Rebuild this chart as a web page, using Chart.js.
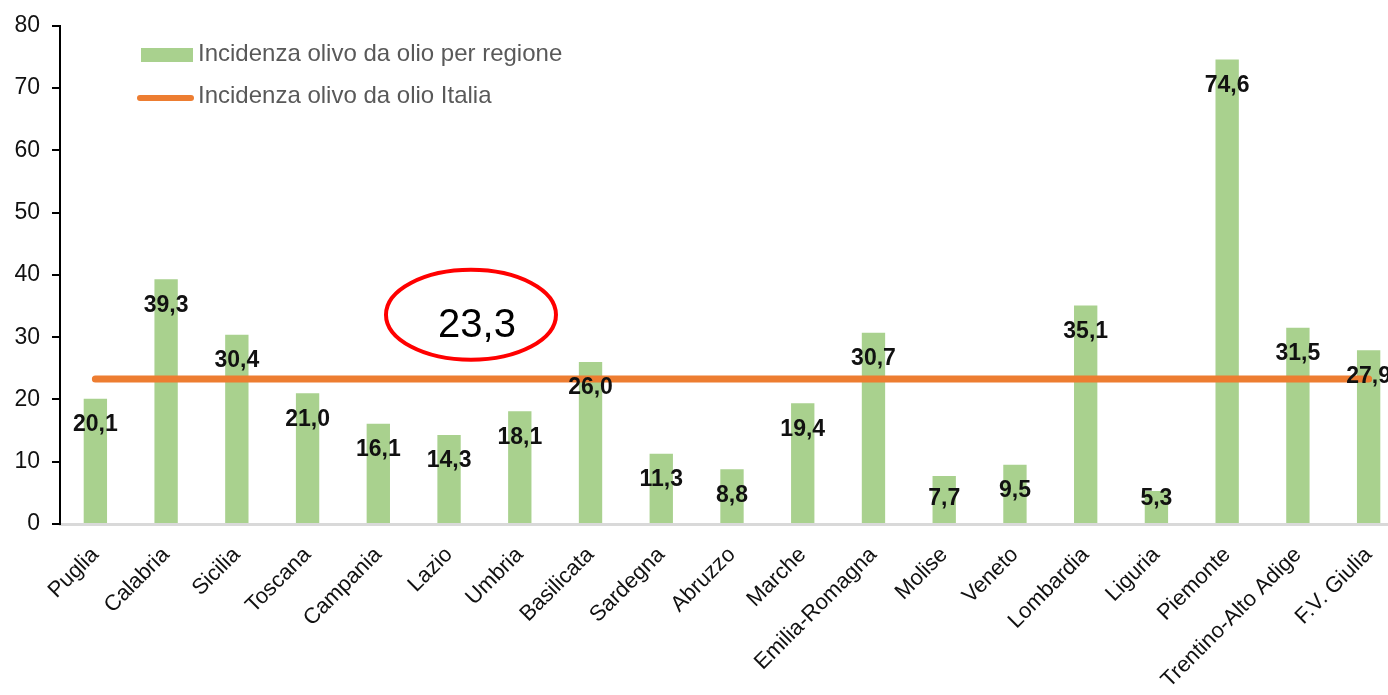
<!DOCTYPE html>
<html>
<head>
<meta charset="utf-8">
<script src="https://cdn.jsdelivr.net/npm/chart.js@4.4.1/dist/chart.umd.min.js"></script>
<style>
  html, body { margin: 0; padding: 0; background: #fff; overflow: hidden; }
  #wrap { width: 1406px; height: 695px; }
</style>
</head>
<body>
<div id="wrap"><canvas id="chart" width="1406" height="695"></canvas></div>
<script>
const regioni = ['Puglia', 'Calabria', 'Sicilia', 'Toscana', 'Campania', 'Lazio', 'Umbria',
    'Basilicata', 'Sardegna', 'Abruzzo', 'Marche', 'Emilia-Romagna', 'Molise', 'Veneto',
    'Lombardia', 'Liguria', 'Piemonte', 'Trentino-Alto Adige', 'F.V. Giulia'];
const incidenzaRegione = [20.1, 39.3, 30.4, 21.0, 16.1, 14.3, 18.1, 26.0, 11.3, 8.8, 19.4,
    30.7, 7.7, 9.5, 35.1, 5.3, 74.6, 31.5, 27.9];
const incidenzaItalia = [23.3, 23.3, 23.3, 23.3, 23.3, 23.3, 23.3, 23.3, 23.3, 23.3, 23.3,
    23.3, 23.3, 23.3, 23.3, 23.3, 23.3, 23.3, 23.3];
const seriesNames = ['Incidenza olivo da olio per regione', 'Incidenza olivo da olio Italia'];
const yTicks = [0, 10, 20, 30, 40, 50, 60, 70, 80];
// callout: ellipse around the national value
const callout = { text: '23,3', x: 5.31, y: 33.6 };

const GREEN = '#A9D18E';
const ORANGE = '#ED7D31';
const FONT = '"Liberation Sans", Arial, sans-serif';

const fmt = v => v.toFixed(1).replace('.', ',');

const valueLabels = {
    id: 'valueLabels',
    afterDatasetsDraw(chart) {
        const { ctx } = chart;
        const meta = chart.getDatasetMeta(1);
        const base = chart.scales.y.getPixelForValue(0);
        ctx.save();
        ctx.font = `bold 23px ${FONT}`;
        ctx.fillStyle = '#111';
        ctx.textAlign = 'center';
        ctx.textBaseline = 'middle';
        meta.data.forEach((bar, i) => {
            const y = Math.min(bar.y + 26, base - 25);
            ctx.fillText(fmt(incidenzaRegione[i]), bar.x, y);
        });
        ctx.restore();
    }
};

const extras = {
    id: 'extras',
    afterDraw(chart) {
        const { ctx, chartArea } = chart;
        const { x, y } = chart.scales;
        ctx.save();

        // legend
        const lx = chartArea.left + 81;
        ctx.fillStyle = GREEN;
        ctx.fillRect(lx, 48, 52, 14);
        ctx.strokeStyle = ORANGE;
        ctx.lineWidth = 6;
        ctx.lineCap = 'round';
        ctx.beginPath();
        ctx.moveTo(lx - 1, 98);
        ctx.lineTo(lx + 50, 98);
        ctx.stroke();
        ctx.font = `24px ${FONT}`;
        ctx.fillStyle = '#595959';
        ctx.textBaseline = 'middle';
        ctx.textAlign = 'left';
        ctx.fillText(seriesNames[0], lx + 57, 54);
        ctx.fillText(seriesNames[1], lx + 57, 96);

        // callout ellipse
        const cx = x.getPixelForValue(callout.x);
        const cy = y.getPixelForValue(callout.y);
        ctx.strokeStyle = '#FF0000';
        ctx.lineWidth = 4;
        ctx.beginPath();
        ctx.ellipse(cx, cy, 85, 45, 0, 0, Math.PI * 2);
        ctx.stroke();
        ctx.fillStyle = '#000';
        ctx.font = `40px ${FONT}`;
        ctx.textAlign = 'center';
        ctx.fillText(callout.text, cx + 6, cy + 11);
        ctx.restore();
    }
};

new Chart(document.getElementById('chart'), {
    data: {
        labels: regioni,
        datasets: [
            {
                type: 'line',
                label: seriesNames[1],
                data: incidenzaItalia,
                borderColor: ORANGE,
                borderWidth: 7,
                borderCapStyle: 'round',
                pointRadius: 0,
                order: 0
            },
            {
                type: 'bar',
                label: seriesNames[0],
                data: incidenzaRegione,
                backgroundColor: GREEN,
                categoryPercentage: 1,
                barPercentage: 0.33,
                order: 1
            }
        ]
    },
    plugins: [valueLabels, extras],
    options: {
        responsive: false,
        animation: false,
        layout: { padding: { top: 25, right: 2, left: 0, bottom: 0 } },
        plugins: {
            legend: { display: false },
            tooltip: { enabled: false }
        },
        scales: {
            x: {
                grid: { display: false },
                border: { display: true, color: '#D9D9D9', width: 3 },
                ticks: {
                    autoSkip: false,
                    minRotation: 45,
                    maxRotation: 45,
                    padding: 10,
                    color: '#111',
                    font: { family: FONT, size: 22 }
                },
                afterFit(scale) { scale.height = 171; }
            },
            y: {
                min: 0,
                max: 80,
                afterBuildTicks(scale) { scale.ticks = yTicks.map(v => ({ value: v })); },
                grid: { drawOnChartArea: false, drawTicks: true, tickLength: 8, color: '#000', lineWidth: 2 },
                border: { display: true, color: '#000', width: 2 },
                ticks: {
                    padding: 12,
                    color: '#111',
                    font: { family: FONT, size: 23 }
                },
                afterFit(scale) { scale.width = 60; }
            }
        }
    }
});
</script>
</body>
</html>
